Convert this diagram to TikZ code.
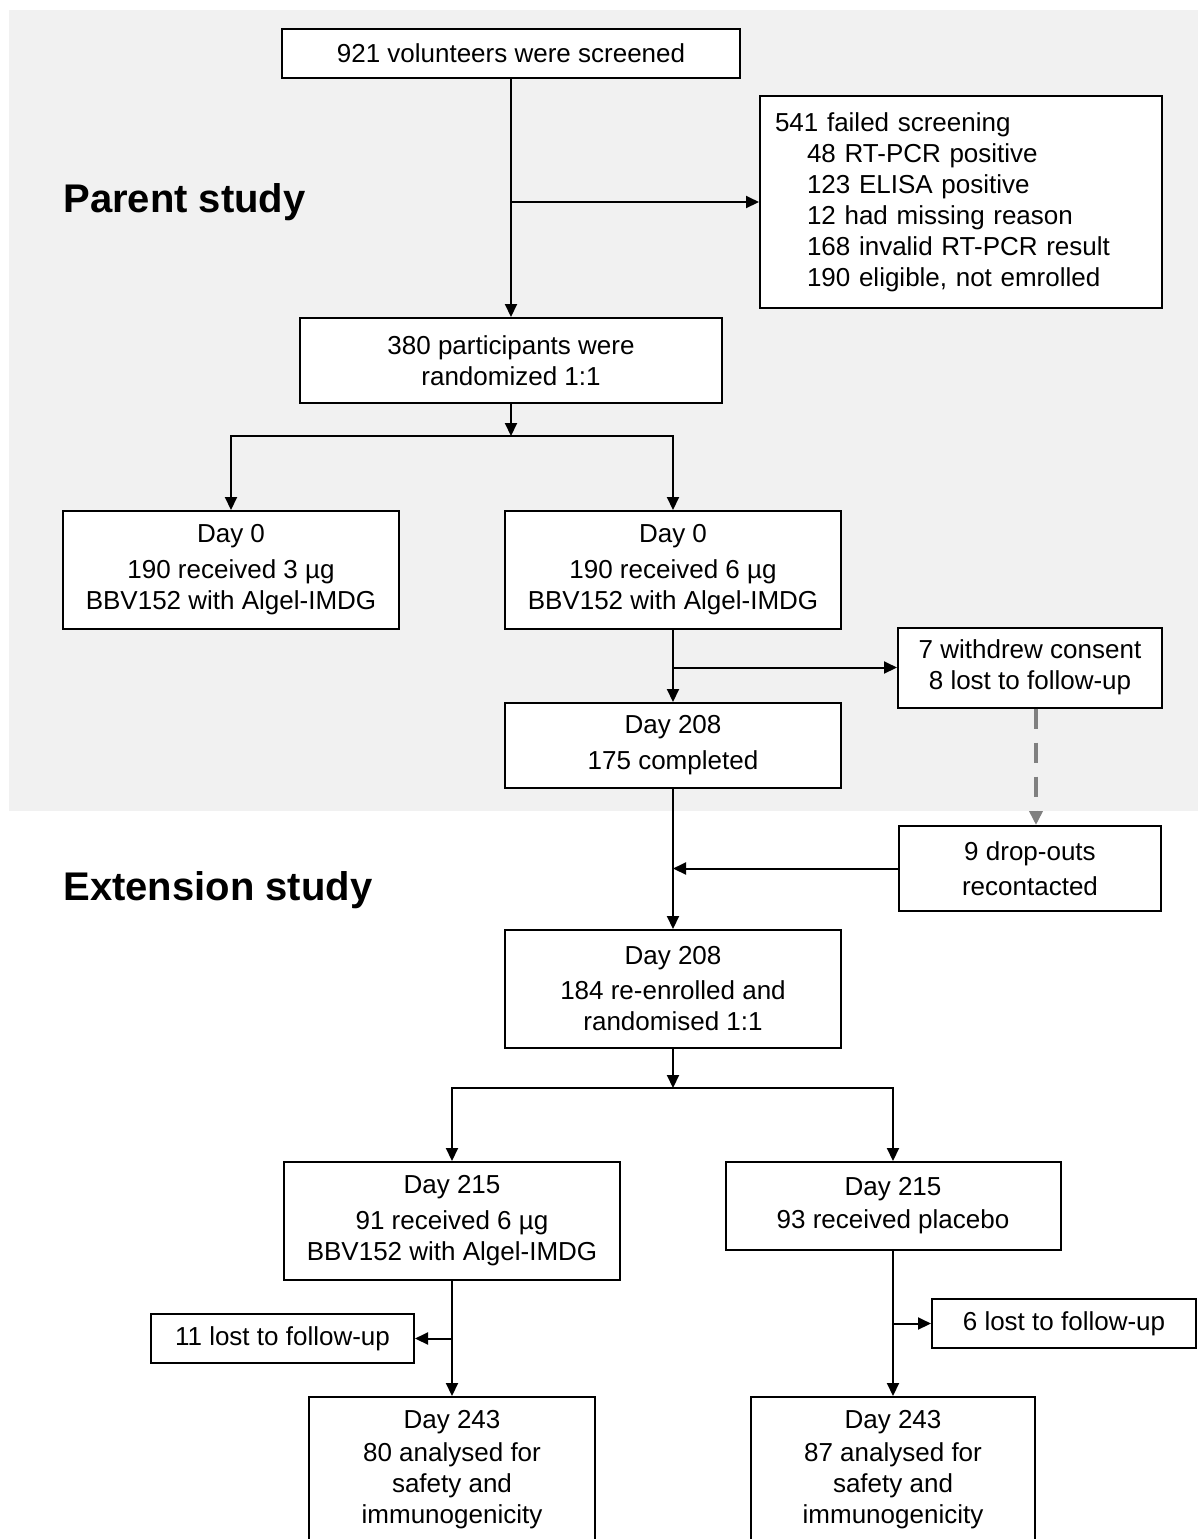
\documentclass[tikz,border=0pt]{standalone}
\usepackage{fontspec}
\setmainfont{Liberation Sans}
\usetikzlibrary{arrows.meta}
\definecolor{bggray}{RGB}{241,241,241}
\definecolor{dashgray}{RGB}{128,128,128}
\begin{document}
\begin{tikzpicture}[x=0.5pt,y=-0.5pt,
  box/.style={draw=black, fill=white, line width=1pt, inner sep=0pt, align=center,
    font=\fontsize{13}{15.5}\selectfont},
  arr/.style={line width=1pt, -{Triangle[length=6.5pt,width=6pt]}},
  ln/.style={line width=1pt},
  dasharr/.style={line width=2pt, draw=dashgray, dash pattern=on 10pt off 7pt,
    -{Triangle[length=7pt,width=6.5pt,fill=dashgray]}},
  title/.style={font=\fontsize{20}{24}\bfseries\selectfont, inner sep=0pt, anchor=base west}]
\useasboundingbox (0,0) rectangle (1198,1539);
\fill[bggray] (9,10) rectangle (1198,811);

\node[title] (T1) at (63,212) {Parent study};
\node[title] (T2) at (63,900) {Extension study};

\node[box, minimum width=229pt, minimum height=24.5pt] (B1) at (511,53.5) {921 volunteers were screened};
\node[box, align=left, text width=186pt, inner xsep=7.5pt, minimum height=106pt] (B2) at (961,202)
  {541 failed screening\\
   \hspace*{16pt}48 RT-PCR positive\\
   \hspace*{16pt}123 ELISA positive\\
   \hspace*{16pt}12 had missing reason\\
   \hspace*{16pt}168 invalid RT-PCR result\\
   \hspace*{16pt}190 eligible, not emrolled};
\node[box, minimum width=211pt, minimum height=42.5pt] (B3) at (511,360.5) {380 participants were\\randomized 1:1};
\node[box, minimum width=168pt, minimum height=59pt] (B4) at (231,570) {Day 0\\[2.5pt]190 received 3 µg\\BBV152 with Algel-IMDG};
\node[box, minimum width=168pt, minimum height=59pt] (B5) at (673,570) {Day 0\\[2.5pt]190 received 6 µg\\BBV152 with Algel-IMDG};
\node[box, minimum width=132pt, minimum height=40pt] (B7) at (1030,667.5) {7 withdrew consent\\8 lost to follow-up};
\node[box, minimum width=168pt, minimum height=42.5pt] (B6) at (673,745.5) {Day 208\\[2.5pt]175 completed};
\node[box, minimum width=131pt, minimum height=42.5pt] (B8) at (1030,868.5) {9 drop-outs\\[2pt]recontacted};
\node[box, minimum width=168pt, minimum height=59pt] (B9) at (673,989) {Day 208\\[2pt]184 re-enrolled and\\randomised 1:1};
\node[box, minimum width=168pt, minimum height=59pt] (B10) at (452,1221) {Day 215\\[2.5pt]91 received 6 µg\\BBV152 with Algel-IMDG};
\node[box, minimum width=167.5pt, minimum height=44pt] (B11) at (893,1206) {Day 215\\[1pt]93 received placebo};
\node[box, minimum width=131.5pt, minimum height=24.5pt] (B13) at (282.5,1338.5) {11 lost to follow-up};
\node[box, minimum width=132pt, minimum height=24.5pt] (B15) at (1064,1323.5) {6 lost to follow-up};
\node[box, minimum width=143pt, minimum height=73pt] (B12) at (452,1470) {Day 243\\[1pt]80 analysed for\\safety and\\immunogenicity};
\node[box, minimum width=142pt, minimum height=73pt] (B14) at (893,1470) {Day 243\\[1pt]87 analysed for\\safety and\\immunogenicity};

\coordinate (J1) at (511,436);
\coordinate (J2) at (673,1088);

\draw[arr] (B1) -- (B3);
\draw[arr] (B1.south |- B2.west) -- (B2.west);
\draw[arr] (B3) -- (J1);
\draw[arr] (J1) -| (B4.north);
\draw[arr] (J1) -| (B5.north);
\draw[arr] (B5) -- (B6);
\draw[arr] (B5.south |- B7.west) -- (B7.west);
\draw[dasharr] ([xshift=3pt]B7.south) -- ([xshift=3pt]B8.north);
\draw[arr] (B6) -- (B9);
\draw[arr] (B8.west) -- (B6.south |- B8.west);
\draw[arr] (B9) -- (J2);
\draw[arr] (J2) -| (B10.north);
\draw[arr] (J2) -| (B11.north);
\draw[arr] (B10) -- (B12);
\draw[arr] (B10.south |- B13.east) -- (B13.east);
\draw[arr] (B11) -- (B14);
\draw[arr] (B11.south |- B15.west) -- (B15.west);
\end{tikzpicture}
\end{document}
